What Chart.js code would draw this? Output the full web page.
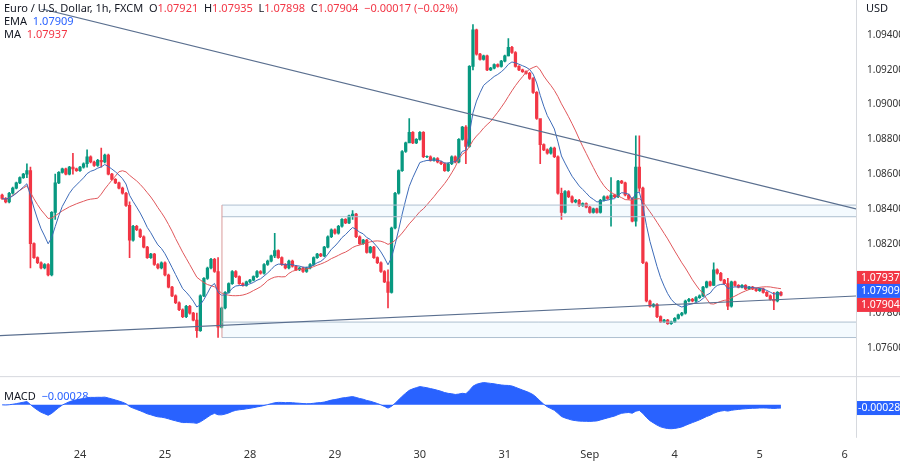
<!DOCTYPE html>
<html><head><meta charset="utf-8">
<script src="https://cdn.jsdelivr.net/npm/chart.js@4.4.1/dist/chart.umd.min.js"></script>
<style>
body{margin:0;background:#fff;font-family:"Noto Sans",Roboto,sans-serif}
#wrap{position:relative;width:900px;height:463px}
.t{position:absolute;font-size:11px;color:#131722;white-space:pre;line-height:13px}
.r{color:#f23645}.b{color:#2962ff}
</style></head><body>
<div id="wrap"><canvas id="c" width="900" height="463"></canvas>
<div class="t" style="left:4px;top:1px">Euro / U.S. Dollar, 1h, FXCM  O<span class="r">1.07921</span>  H<span class="r">1.07935</span>  L<span class="r">1.07898</span>  C<span class="r">1.07904</span>  <span class="r">−0.00017 (−0.02%)</span></div>
<div class="t" style="left:4px;top:14px">EMA  <span class="b">1.07909</span></div>
<div class="t" style="left:4px;top:27px">MA  <span class="r">1.07937</span></div>
<div class="t" style="left:4px;top:389px">MACD  <span class="b">−0.00028</span></div>
<div class="t" style="left:866px;top:1px">USD</div>
</div>
<script>
const firstIndex = -22;
const closes = [
1.0846,1.0844,1.0849,1.0852,1.0855,1.0858,1.0860,1.0862,1.0820,1.0812,1.0809,1.0806,1.0808,1.0802,1.0838,1.0855,1.0861,1.0863,1.0860,1.0864,1.0863,1.0862,
1.0864,1.0866,1.0870,1.0867,1.0865,1.0868,1.0867,1.0871,1.0860,1.0857,1.0855,1.0852,1.0849,1.0842,1.0822,1.0830,1.0828,1.0824,1.0818,1.0812,1.0814,1.0808,1.0806,1.0809,
1.0802,1.0795,1.0790,1.0786,1.0782,1.0778,1.0784,1.0780,1.0776,1.0770,1.0790,1.0800,1.0806,1.0811,1.0804,1.0772,1.0783,1.0792,1.0797,1.0804,1.0801,1.0797,1.0796,1.0798,
1.0799,1.0801,1.0804,1.0803,1.0808,1.0810,1.0813,1.0816,1.0812,1.0808,1.0806,1.0810,1.0807,1.0805,1.0806,1.0804,1.0806,1.0808,1.0812,1.0814,1.0813,1.0818,1.0824,1.0828,
1.0826,1.0830,1.0834,1.0832,1.0836,1.0837,1.0824,1.0820,1.0822,1.0815,1.0818,1.0812,1.0809,1.0804,1.0798,1.0792,1.0829,1.0849,1.0862,1.0873,1.0878,1.0884,1.0878,1.0880,
1.0884,1.0870,1.0870,1.0868,1.0869,1.0867,1.0866,1.0862,1.0866,1.0870,1.0867,1.0880,1.0887,1.0876,1.0922,1.0943,1.0929,1.0926,1.0928,1.0920,1.0921,1.0923,1.0922,1.0925,
1.0928,1.0933,1.0930,1.0922,1.0920,1.0919,1.0918,1.0915,1.0907,1.0892,1.0877,1.0874,1.0872,1.0875,1.0870,1.0849,1.0838,1.0850,1.0847,1.0844,1.0845,1.0842,1.0843,1.0841,
1.0838,1.0840,1.0838,1.0845,1.0847,1.0846,1.0848,1.0847,1.0856,1.0855,1.0848,1.0846,1.0833,1.0864,1.0852,1.0809,1.0787,1.0784,1.0785,1.0778,1.0775,1.0776,1.0774,1.0775,
1.0777,1.0779,1.0780,1.0787,1.0788,1.0787,1.0789,1.0790,1.0795,1.0798,1.0796,1.0805,1.0803,1.0799,1.0797,1.0784,1.0798,1.0796,1.0795,1.0796,1.0794,1.0795,1.0794,1.0793,
1.0794,1.0792,1.0790,1.0788,1.0787,1.0792,1.07904];
// notable wicks: [index, high, low]
const wicks = [[-15,1.0866,1.0858],[-14,1.0864,1.0806],[-7,1.0860,1.0834],[2,1.0874,1.0864],[-2,1.0872,1.0860],[6,1.0875,1.0864],[14,1.0844,1.0812],
[33,1.0780,1.0766],[39,1.0812,1.0766],[55,1.0826,1.0812],[77,1.0839,1.0834],[87,1.0805,1.0783],[93,1.0892,1.0880],[109,1.0888,1.0866],[111,1.0946,1.0920],
[121,1.0938,1.0928],[130,1.0890,1.0866],[136,1.0852,1.0834],[150,1.0858,1.0830],[157,1.0882,1.0830],[158,1.0882,1.0850],[179,1.0809,1.0796],[183,1.0800,1.0782],[196,1.0792,1.0782]];
const dayTicks = [0,24,48,72,96,120,144,168,192,216];
const dayLabels = ['24','25','28','29','30','31','Sep','4','5','6'];
const priceTicks = [1.0760,1.0780,1.0800,1.0820,1.0840,1.0860,1.0880,1.0900,1.0920,1.0940];
const downLine = [[-22.6,1.0961],[219.2,1.0840]];
const upLine = [[-22.6,1.07671],[219.2,1.07899]];
const zoneTop = [40.1,219.2,1.08422,1.08355];
const zoneBottom = [40.1,219.2,1.07749,1.07660];
const lastLabels = ['1.07937','1.07909','1.07904'];
const macdLabel = '-0.00028';

const UP='#089981', DN='#f23645';
const N=closes.length, idx=[...Array(N).keys()].map(k=>k+firstIndex);
const opens=closes.map((c,k)=>k===0?1.0848:closes[k-1]);
const hi=closes.map((c,k)=>Math.max(c,opens[k])+0.00005), lo=closes.map((c,k)=>Math.min(c,opens[k])-0.00005);
wicks.forEach(([i,h,l])=>{const k=i-firstIndex;hi[k]=h;lo[k]=l;});
function ema(p){const a=2/(p+1);let e=closes[0];return closes.map(c=>e=e+a*(c-e));}
function sma(p){return closes.map((c,k)=>{const s=closes.slice(Math.max(0,k-p+1),k+1);return s.reduce((x,y)=>x+y,0)/s.length;});}
const ema9=ema(9), ma20=sma(20);
const e12=ema(12), e26=ema(26), macd=e12.map((v,k)=>v-e26[k]);
const cols=closes.map((c,k)=>c>=opens[k]?UP:DN);
const mmin=Math.min(...macd), mmax=Math.max(...macd);

const overlay={id:'ov',afterDatasetsDraw(ch){
 const g=ch.ctx,x=ch.scales.x,y=ch.scales.y,a=ch.chartArea;
 g.save();
 const X=v=>x.getPixelForValue(v),Y=v=>y.getPixelForValue(v);
 g.beginPath();g.rect(a.left,y.top,a.right-a.left,y.bottom-y.top);g.clip();
 [zoneTop,zoneBottom].forEach(z=>{g.fillStyle='rgba(33,150,243,0.05)';g.fillRect(X(z[0]),Y(z[2]),X(z[1])-X(z[0]),Y(z[3])-Y(z[2]));
  g.strokeStyle='#aebfd0';g.lineWidth=1;g.beginPath();g.moveTo(X(z[0]),Y(z[2]));g.lineTo(X(z[1]),Y(z[2]));g.moveTo(X(z[0]),Y(z[3]));g.lineTo(X(z[1]),Y(z[3]));g.stroke();});
 g.strokeStyle='#d99a9a';g.beginPath();g.moveTo(X(zoneTop[0]),Y(zoneTop[2]));g.lineTo(X(zoneTop[0]),Y(zoneBottom[3]));g.stroke();
 g.strokeStyle='#5a6f8f';g.lineWidth=1.1;
 [downLine,upLine].forEach(l=>{g.beginPath();g.moveTo(X(l[0][0]),Y(l[0][1]));g.lineTo(X(l[1][0]),Y(l[1][1]));g.stroke();});
 g.restore();g.save();
 g.strokeStyle='#d6d9de';g.lineWidth=1;g.beginPath();g.moveTo(0,y.bottom+0.5);g.lineTo(900,y.bottom+0.5);g.stroke();
 g.beginPath();g.moveTo(a.right+0.5,0);g.lineTo(a.right+0.5,ch.scales.y2.bottom);g.stroke();
 g.font='10.5px "Noto Sans"';g.textBaseline='middle';
 const labs=[[lastLabels[0],'#f23645',-13],[lastLabels[1],'#2962ff',0],[lastLabels[2],'#f23645',14]];
 const base=Y(ema9[N-1])-3;
 labs.forEach(([t,c,o])=>{const yy=base+o;g.fillStyle=c;g.fillRect(a.right+1,yy-7,44,14);g.fillStyle='#fff';g.fillText(t,a.right+5,yy);});
 const y2=ch.scales.y2,my=y2.getPixelForValue(macd[N-1]);
 g.fillStyle='#2962ff';g.fillRect(a.right+1,my-7,44,14);g.fillStyle='#fff';g.fillText(macdLabel,a.right+2,my);
 g.restore();
}};

new Chart(document.getElementById('c'),{
 type:'bar',
 data:{datasets:[
  {data:idx.map((i,k)=>({x:i,y:[lo[k],hi[k]]})),backgroundColor:cols,barThickness:1,grouped:false,yAxisID:'y',order:2},
  {data:idx.map((i,k)=>({x:i,y:[opens[k],closes[k]===opens[k]?closes[k]+0.00002:closes[k]]})),backgroundColor:cols,barThickness:2.6,grouped:false,yAxisID:'y',order:2},
  {type:'line',data:idx.map((i,k)=>({x:i,y:ma20[k]})),borderColor:'#e0575b',borderWidth:1,pointRadius:0,yAxisID:'y',order:1},
  {type:'line',data:idx.map((i,k)=>({x:i,y:ema9[k]})),borderColor:'#3d6bb8',borderWidth:1,pointRadius:0,yAxisID:'y',order:0},
  {type:'line',data:idx.map((i,k)=>({x:i,y:macd[k]})),borderColor:'#2962ff',backgroundColor:'#2962ff',borderWidth:1,pointRadius:0,fill:'origin',yAxisID:'y2'}
 ]},
 options:{responsive:false,animation:false,layout:{padding:0},
  plugins:{legend:{display:false},tooltip:{enabled:false}},
  scales:{
   x:{type:'linear',offset:false,min:-22.6,max:219.2,grid:{display:false},border:{display:false},
    afterBuildTicks:s=>{s.ticks=dayTicks.map(v=>({value:v}));},
    ticks:{autoSkip:false,maxRotation:0,padding:2,font:{size:11,family:'Noto Sans'},color:'#333',callback:v=>dayLabels[dayTicks.indexOf(v)]}},
   y:{position:'right',stack:'p',stackWeight:381,min:1.07438,max:1.0955,grid:{display:false},border:{display:false},
    afterBuildTicks:s=>{s.ticks=priceTicks.map(v=>({value:v}));},
    afterFit:s=>{s.width=44;},
    ticks:{font:{size:10,family:'Noto Sans'},color:'#333',padding:3,callback:v=>v.toFixed(5)}},
   y2:{position:'right',stack:'p',stackWeight:64,min:mmin*1.38,max:mmax*1.29,grid:{display:false},border:{display:false},
    afterFit:s=>{s.width=44;},ticks:{display:false}}
  }},
 plugins:[overlay]
});
</script></body></html>
